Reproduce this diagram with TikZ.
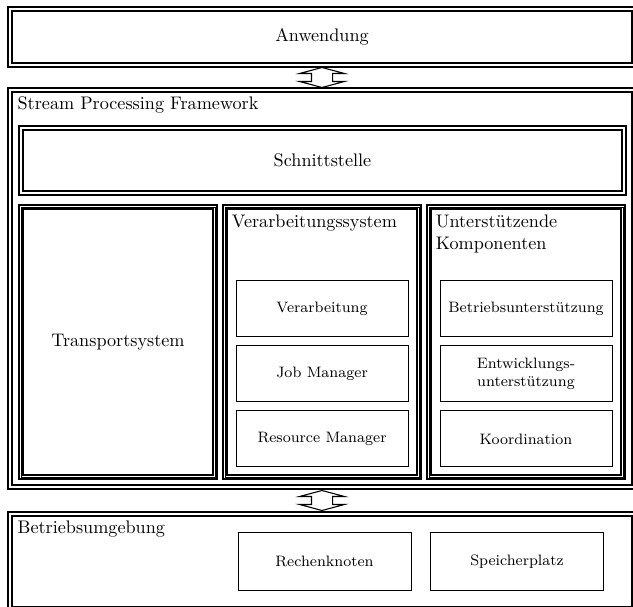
\documentclass[tikz,border=0pt]{standalone}
\usetikzlibrary{positioning,calc,shapes.arrows}

\tikzset{
  dframe/.style={draw, double, double distance=1.6pt, line width=0.6pt,
    inner sep=0pt, outer sep=0pt},
  colframe/.style={dframe, minimum width=106.7pt, minimum height=148.5pt},
  box/.style={draw, line width=0.55pt, font=\fontsize{8.3}{10}\selectfont, align=center,
    inner sep=0pt, minimum width=94.6pt, minimum height=30.8pt},
  title/.style={anchor=north west, inner sep=0pt, outer sep=0pt, align=left},
  bidir/.style={draw, line width=0.6pt, double arrow, shape border rotate=90,
    double arrow tip angle=150, double arrow head extend=6.5pt,
    inner xsep=5.5pt, inner ysep=0pt, minimum height=11pt}
}

\begin{document}
\begin{tikzpicture}[x=0.55pt, y=-0.55pt]
\useasboundingbox (0,0) rectangle (633,607);

% layers
\node[dframe, minimum width=343.2pt, minimum height=30.8pt] (anw) at (322,37) {Anwendung};
\node[dframe, minimum width=343.2pt, minimum height=218.35pt] (spf) at (322,288.5) {};
\node[dframe, minimum width=343.2pt, minimum height=52.25pt] (betr) at (322,561.5) {};
\node[title, below right=3.9pt and 4.2pt of spf.north west] (spft) {Stream Processing Framework};
\node[title, below right=3.9pt and 4.2pt of betr.north west] (betrt) {Betriebsumgebung};

% framework parts
\node[dframe, minimum width=331.65pt, minimum height=35.75pt] (schn) at (322.5,160.5) {Schnittstelle};
\node[colframe] (trans) at (118,342) {Transportsystem};
\node[colframe] (verarb) at (322,342) {};
\node[colframe] (unterst) at (526,342) {};
\foreach \c in {trans, verarb, unterst}
  \draw[line width=0.4pt] (\c.north west) rectangle (\c.south east);
\node[title, below right=4.4pt and 3.8pt of verarb.north west] (verarbt) {Verarbeitungssystem};
\node[title, below right=4.4pt and 3.8pt of unterst.north west] (unterstt) {Unterstützende\\Komponenten};

% inner boxes
\foreach \n/\txt/\y in {verar/Verarbeitung/309, job/Job Manager/374, res/Resource Manager/439}
  \node[box] (\n) at (322,\y) {\txt};
\foreach \n/\txt/\y in {betru/Betriebsunterstützung/309, entw/Entwicklungs-\\unterstützung/374, koord/Koordination/439}
  \node[box] (\n) at (526,\y) {\txt};

\node[box, minimum width=95.15pt, minimum height=31.35pt] (rechen) at (324.5,561.5) {Rechenknoten};
\node[box, minimum width=95.15pt, minimum height=31.35pt] (speich) at (517,561.5) {Speicherplatz};

% arrows between layers
\node[bidir] (a1) at ($(anw.south)!0.5!(spf.north)$) {};
\node[bidir] (a2) at ($(spf.south)!0.5!(betr.north)$) {};
\end{tikzpicture}
\end{document}
